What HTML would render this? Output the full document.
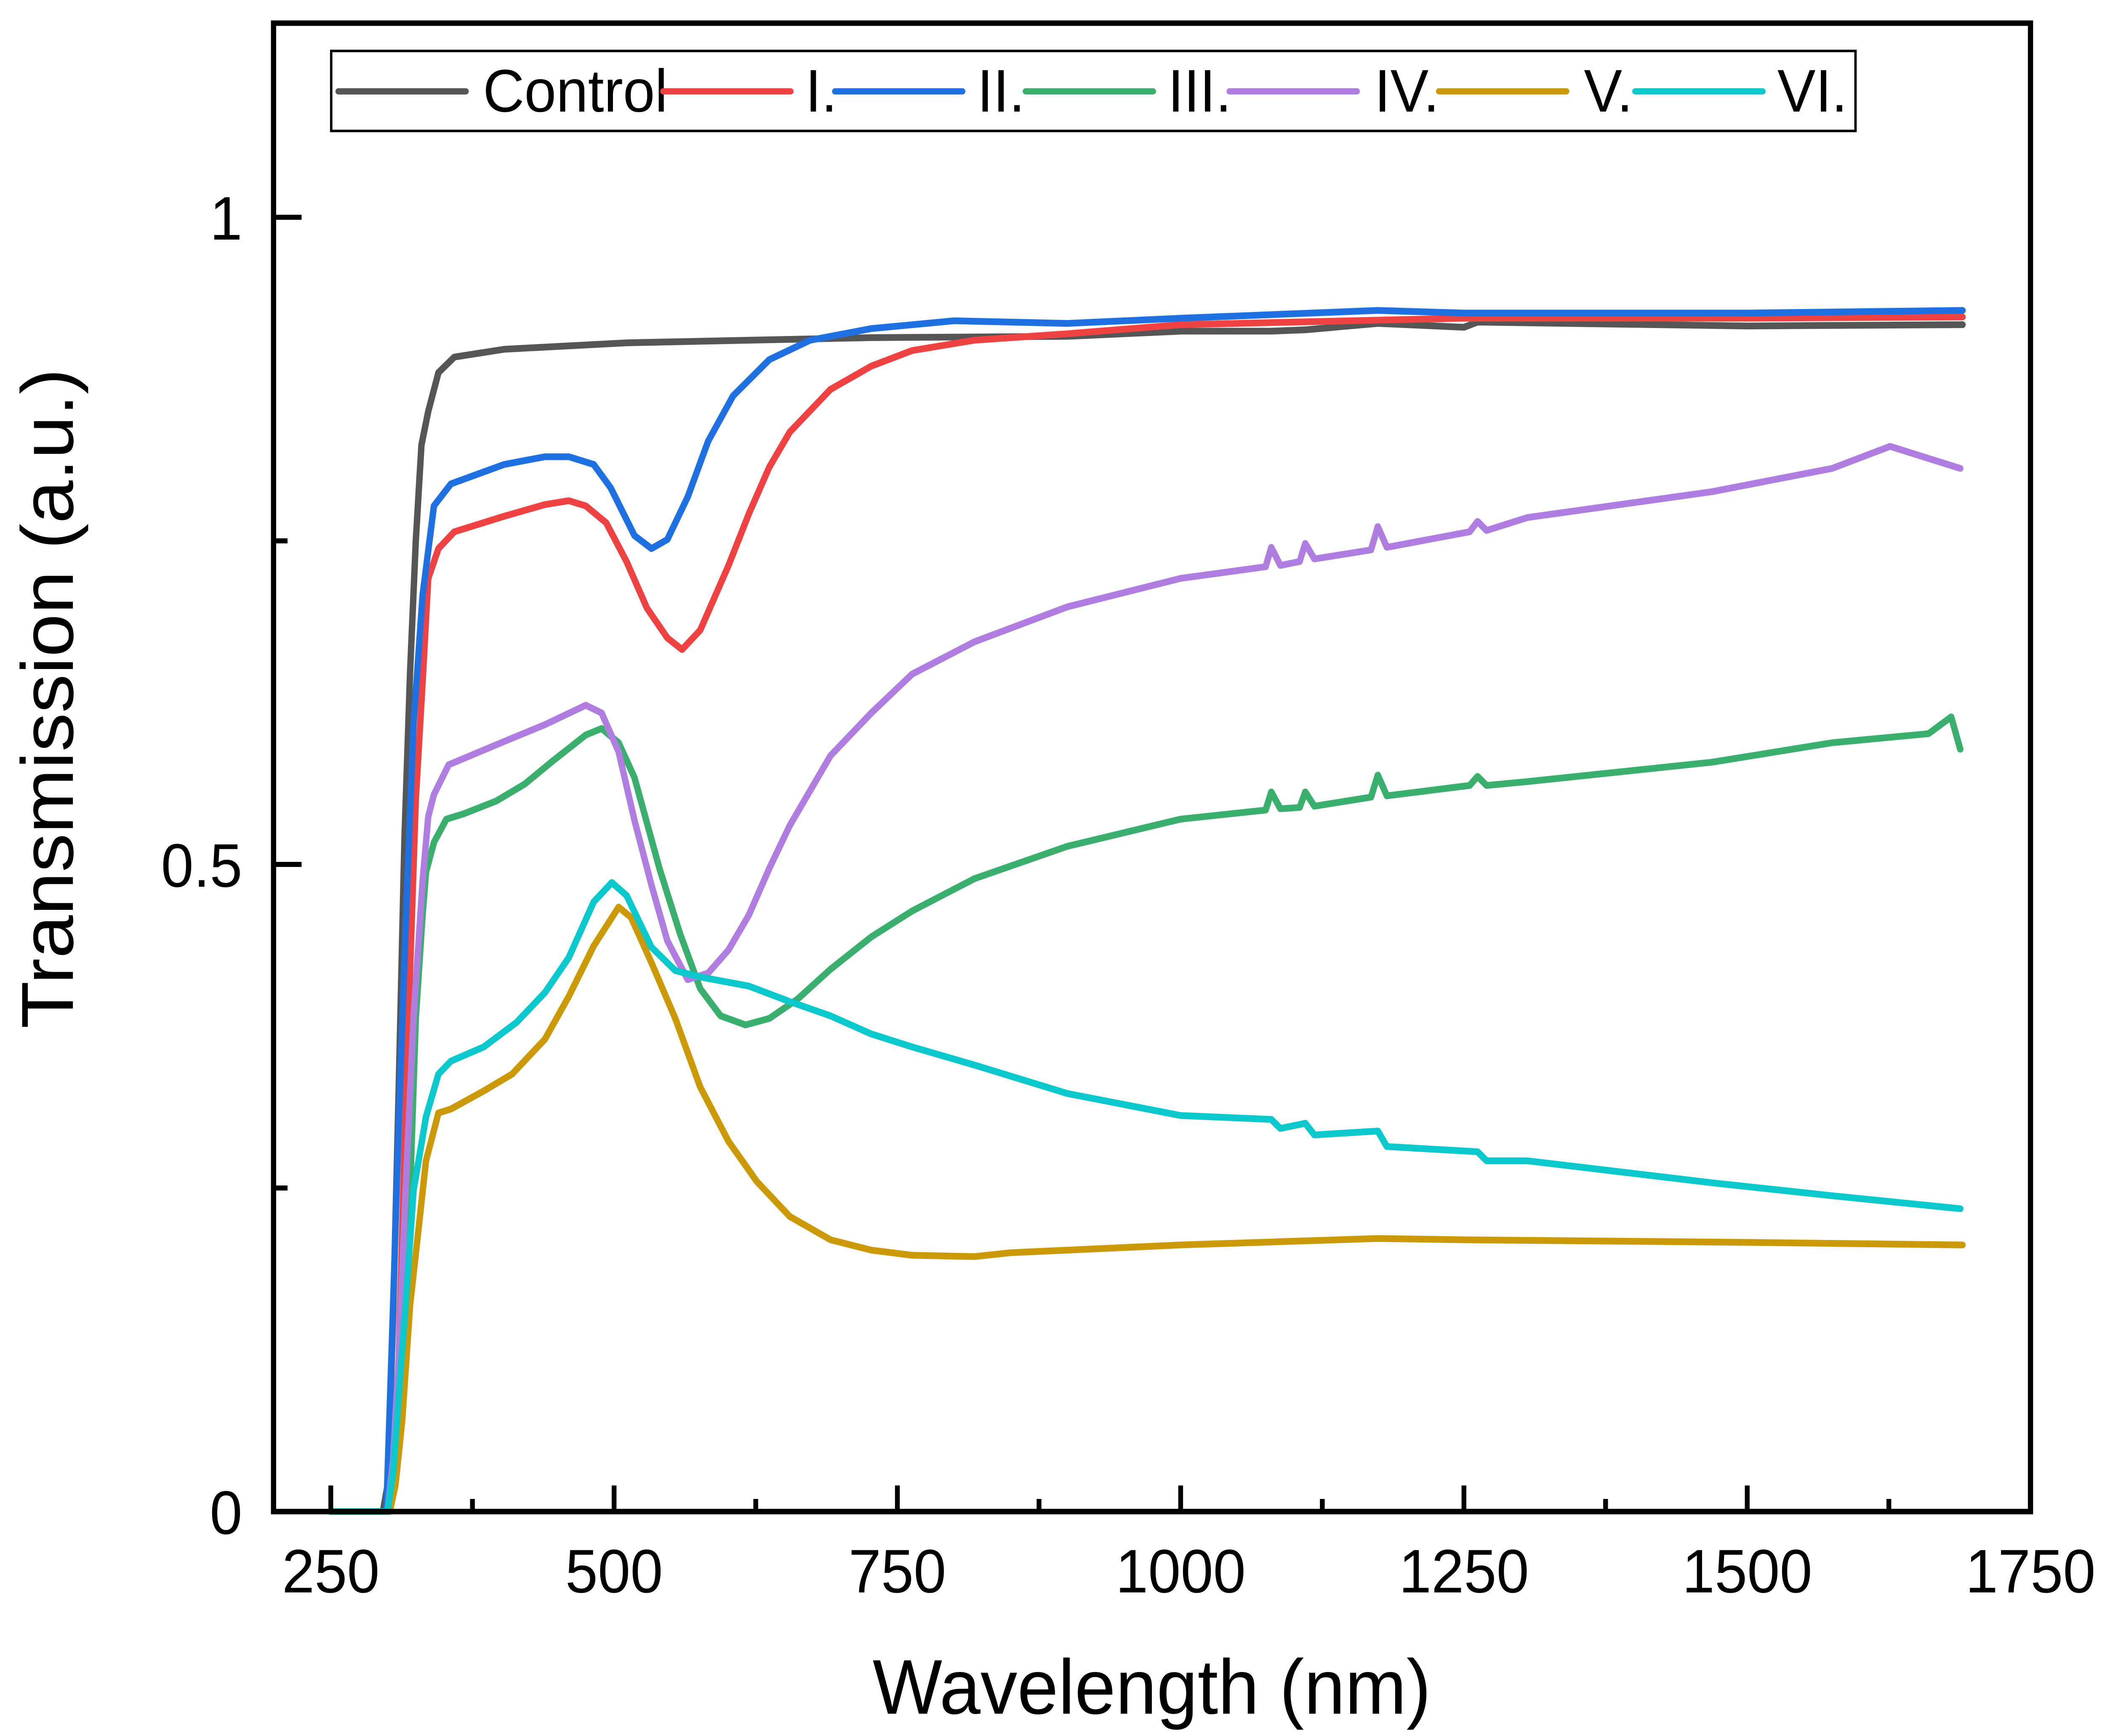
<!DOCTYPE html>
<html><head><meta charset="utf-8"><style>
html,body{margin:0;padding:0;background:#fff;overflow:hidden;width:100%;height:100%;}
svg{display:block;font-family:"Liberation Sans",Arial,sans-serif;width:100vw;height:100vh;}
</style></head><body>
<svg id="chart" viewBox="0 0 5256 4123" preserveAspectRatio="none" xmlns="http://www.w3.org/2000/svg">
<rect x="0" y="0" width="5256" height="4123" fill="#fff"/>
<g id="series"></g>
<g id="axes"></g>
<g id="legend"></g>
<text x="2876" y="4070" font-size="184" text-anchor="middle">Wavelength (nm)</text>
<text x="0" y="0" font-size="184" text-anchor="middle" transform="translate(182,1659) rotate(-90)">Transmission (a.u.)</text>
</svg>
<script>
const xTicks = [250, 500, 750, 1000, 1250, 1500, 1750];
const xMinorTicks = [375, 625, 875, 1125, 1375, 1625];
const yTicks = [0, 0.5, 1];
const yTickLabels = ["0", "0.5", "1"];
const yMinorTicks = [0.25, 0.75];
const seriesNames = ["Control", "I.", "II.", "III.", "IV.", "V.", "VI."];
const seriesColors = ["#555555", "#ef4242", "#1f70e0", "#3aaf6e", "#b07ee0", "#cc9a08", "#0ac8cc"];

const wlControl = [250,296,300,305,310,315,320,325,330,336,345,359,403,511,619,727,900,1000,1080,1110,1174,1250,1262,1500,1690];
const valControl = [0,0,0.02,0.15,0.33,0.52,0.65,0.75,0.824,0.85,0.88,0.892,0.898,0.903,0.905,0.907,0.908,0.912,0.912,0.913,0.918,0.915,0.919,0.916,0.917];

const wlI = [250,300,305,310,315,320,325,331,336,345,359,403,439,460,475,493,511,529,547,560,576,601,619,637,655,691,727,763,818,900,1000,1250,1500,1690];
const valI = [0,0,0.03,0.12,0.28,0.42,0.55,0.641,0.721,0.744,0.757,0.769,0.778,0.781,0.777,0.764,0.734,0.698,0.675,0.666,0.681,0.731,0.771,0.807,0.834,0.867,0.885,0.897,0.905,0.910,0.917,0.922,0.922,0.923];

const wlII = [250,299,305,310,316,323,331,341,356,403,439,460,482,497,518,533,547,565,583,605,637,673,727,800,900,1000,1174,1250,1500,1690];
const valII = [0,0,0.16,0.3,0.45,0.608,0.708,0.777,0.794,0.809,0.815,0.815,0.809,0.791,0.754,0.744,0.751,0.784,0.827,0.862,0.890,0.905,0.914,0.920,0.918,0.922,0.928,0.926,0.926,0.928];

const wlIII = [250,300,305,310,315,320,325,331,334,341,352,367,396,421,446,475,489,504,518,540,558,576,594,616,637,662,691,727,763,818,900,1000,1075,1080,1088,1105,1110,1118,1168,1174,1182,1255,1262,1270,1306,1469,1575,1660,1680,1688];
const valIII = [0,0,0.02,0.08,0.16,0.248,0.381,0.461,0.494,0.517,0.535,0.539,0.549,0.562,0.580,0.600,0.605,0.594,0.567,0.497,0.447,0.404,0.383,0.376,0.381,0.396,0.419,0.444,0.464,0.489,0.514,0.535,0.542,0.556,0.543,0.544,0.556,0.545,0.552,0.569,0.553,0.561,0.568,0.561,0.564,0.579,0.594,0.601,0.614,0.589];

const wlIV = [250,300,305,310,316,323,331,336,341,354,403,439,475,489,504,518,533,547,565,583,601,619,637,655,691,727,763,818,900,1000,1075,1080,1088,1105,1110,1118,1168,1174,1182,1255,1262,1270,1306,1469,1575,1626,1688];
const valIV = [0,0,0.04,0.12,0.248,0.381,0.487,0.537,0.554,0.577,0.595,0.608,0.623,0.617,0.587,0.534,0.484,0.441,0.411,0.416,0.434,0.461,0.497,0.530,0.584,0.617,0.647,0.672,0.699,0.721,0.730,0.745,0.731,0.734,0.748,0.736,0.743,0.761,0.745,0.757,0.765,0.758,0.768,0.788,0.806,0.823,0.806];

const wlV = [250,302,307,313,320,327,334,345,356,385,410,439,460,482,504,515,533,554,576,601,626,655,691,727,763,818,850,1000,1174,1250,1500,1690];
const valV = [0,0,0.02,0.07,0.16,0.215,0.271,0.308,0.311,0.325,0.338,0.365,0.398,0.437,0.467,0.459,0.424,0.381,0.328,0.286,0.255,0.228,0.210,0.202,0.198,0.197,0.200,0.206,0.211,0.210,0.208,0.206];

const wlVI = [250,300,305,310,316,323,334,345,356,385,414,439,460,482,498,511,533,554,576,619,655,691,727,763,818,900,1000,1080,1088,1110,1118,1174,1182,1262,1270,1306,1469,1575,1688];
const valVI = [0,0,0.03,0.09,0.159,0.248,0.305,0.338,0.348,0.359,0.378,0.401,0.428,0.471,0.486,0.476,0.436,0.418,0.413,0.406,0.394,0.383,0.369,0.359,0.345,0.323,0.306,0.303,0.296,0.300,0.291,0.294,0.282,0.278,0.271,0.271,0.254,0.244,0.234];

const X0 = 826, X1 = 5070, XMIN = 250, XMAX = 1750;
const Y0 = 3590, YPER = 3074;
function xs(v){ return X0 + (v - XMIN) * (X1 - X0) / (XMAX - XMIN); }
function ys(v){ return Y0 - v * YPER; }
const NS = "http://www.w3.org/2000/svg";
function mk(tag, attrs, parent){
  const e = document.createElementNS(NS, tag);
  for (const k in attrs) e.setAttribute(k, attrs[k]);
  parent.appendChild(e);
  return e;
}
const seriesWl = [wlControl, wlI, wlII, wlIII, wlIV, wlV, wlVI];
const seriesVal = [valControl, valI, valII, valIII, valIV, valV, valVI];
const sg = document.getElementById('series');
[0,1,2,3,4,5,6].forEach(i => {
  const pts = seriesWl[i].map((w, j) => xs(w).toFixed(1) + ',' + ys(seriesVal[i][j]).toFixed(1)).join(' ');
  const p = mk('polyline', {points: pts, fill: 'none', stroke: seriesColors[i], 'stroke-width': 16, 'stroke-linejoin': 'round', 'stroke-linecap': 'round'}, sg);
  
  
});

const ax = document.getElementById('axes');
const frame = mk('rect', {x: 683, y: 55, width: 5070 - 683, height: Y0 - 55, fill: 'none', stroke: '#000', 'stroke-width': 13}, ax);


xTicks.forEach(t => {
  const x = xs(t);
  if (t < XMAX) {
    const l = mk('line', {x1: x, y1: Y0, x2: x, y2: Y0 - 62, stroke: '#000', 'stroke-width': 12}, ax);
    
    
  }
  const tx = mk('text', {x: x, y: 3782, 'font-size': 146, 'text-anchor': 'middle'}, ax);
  tx.textContent = String(t);
  
  
});
xMinorTicks.forEach(t => {
  const x = xs(t);
  const l = mk('line', {x1: x, y1: Y0, x2: x, y2: Y0 - 30, stroke: '#000', 'stroke-width': 12}, ax);
  
  
});
yTicks.forEach((t, i) => {
  const y = ys(t);
  const l = mk('line', {x1: 683, y1: y, x2: 753, y2: y, stroke: '#000', 'stroke-width': 12}, ax);
  
  
  const tx = mk('text', {x: 605, y: y + 53, 'font-size': 146, 'text-anchor': 'end'}, ax);
  tx.textContent = yTickLabels[i];
  
  
});
yMinorTicks.forEach(t => {
  const y = ys(t);
  const l = mk('line', {x1: 683, y1: y, x2: 718, y2: y, stroke: '#000', 'stroke-width': 12}, ax);
  
  
});

const lg = document.getElementById('legend');
const box = mk('rect', {x: 827, y: 121, width: 4633 - 827, height: 190, fill: '#fff', stroke: '#000', 'stroke-width': 6}, lg);


const legLineX = [845, 1656, 2085, 2561, 3070, 3593, 4083];
const legTextX = [1206, 2011, 2440, 2916, 3432, 3955, 4438];
seriesNames.forEach((n, i) => {
  const g = mk('g', {}, lg);
  
  
  const l = mk('line', {x1: legLineX[i], y1: 217, x2: legLineX[i] + 318, y2: 217, stroke: seriesColors[i], 'stroke-width': 15, 'stroke-linecap': 'round'}, g);
  
  
  const t = mk('text', {x: legTextX[i], y: 265, 'font-size': 143}, g);
  t.textContent = n;
  
  
});
</script>
</body></html>
